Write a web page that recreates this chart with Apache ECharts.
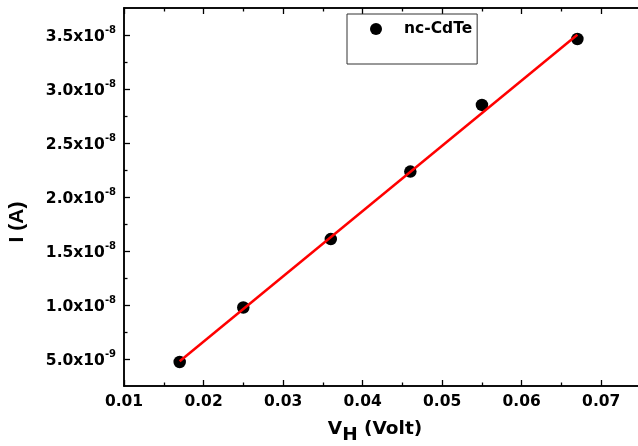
<!DOCTYPE html>
<html>
<head>
<meta charset="utf-8">
<script src="https://cdn.jsdelivr.net/npm/echarts@6/dist/echarts.min.js"></script>
<style>
  html, body { margin: 0; padding: 0; background: #fff; }
  #chart { width: 638px; height: 446px; }
</style>
</head>
<body>
<div id="chart"></div>
<script>
// Hall voltage vs current for nc-CdTe
const seriesName = 'nc-CdTe';
const hallVoltage = [0.017, 0.025, 0.036, 0.046, 0.055, 0.067];
const current = [4.72e-9, 9.77e-9, 1.61e-8, 2.235e-8, 2.853e-8, 3.463e-8];

// Linear fit end points
const fitVoltage = [0.017, 0.067];
const fitCurrent = [4.8e-9, 3.503e-8];

// Axis ticks
const xMajorTicks = [0.01, 0.02, 0.03, 0.04, 0.05, 0.06, 0.07];
const xMinorTicks = [0.015, 0.025, 0.035, 0.045, 0.055, 0.065];
const yMajorTicks = [5e-9, 1e-8, 1.5e-8, 2e-8, 2.5e-8, 3e-8, 3.5e-8];
const yMinorTicks = [7.5e-9, 1.25e-8, 1.75e-8, 2.25e-8, 2.75e-8, 3.25e-8];

const X_MIN = 0.01, X_MAX = 0.075;
const Y_MIN = 2.5e-9, Y_MAX = 3.75e-8;

const FONT = 'DejaVu Sans';
const AXIS_COLOR = '#000';

function sciLabel(v) {
  const exp = Math.floor(Math.log10(v) + 1e-9);
  const mant = v / Math.pow(10, exp);
  return '{m|' + mant.toFixed(1) + 'x10}{e|' + exp + '}';
}

function tickAxis(base, ticks, len, extra) {
  return Object.assign({
    type: 'value',
    min: base.min,
    max: base.max,
    position: base.position,
    axisLine: { show: true, lineStyle: { color: AXIS_COLOR, width: 1.5 } },
    axisTick: { show: true, inside: true, length: len, customValues: ticks,
                lineStyle: { color: AXIS_COLOR, width: 1.3 } },
    axisLabel: { show: false },
    splitLine: { show: false }
  }, extra || {});
}

const chart = echarts.init(document.getElementById('chart'), null, { renderer: 'canvas' });

const option = {
  animation: false,
  backgroundColor: '#fff',
  grid: {
    left: 124, right: -3, top: 8, bottom: 60,
    containLabel: false,
    outerBoundsMode: 'none'
  },
  legend: {
    data: [seriesName],
    left: 347, top: 14,
    padding: [7, 5, 27, 23],
    itemWidth: 46, itemHeight: 12,
    borderColor: '#333', borderWidth: 1,
    textStyle: { fontFamily: FONT, fontWeight: 'bold', fontSize: 15.5, color: '#000' }
  },
  xAxis: [
    tickAxis({ min: X_MIN, max: X_MAX, position: 'bottom' }, xMajorTicks, 6, {
      axisLabel: {
        show: true, customValues: xMajorTicks, margin: 8,
        formatter: v => v.toFixed(2),
        fontFamily: FONT, fontWeight: 'bold', fontSize: 15.5, color: '#000'
      },
      name: '{v|V}{s|H}{v| (Volt)}',
      nameLocation: 'middle',
      nameGap: 34,
      nameTextStyle: {
        padding: [0, 15, 0, 0],
        rich: {
          v: { fontFamily: FONT, fontWeight: 'bold', fontSize: 18.5, color: '#000', lineHeight: 25, verticalAlign: 'top' },
          s: { fontFamily: FONT, fontWeight: 'bold', fontSize: 18.5, color: '#000', lineHeight: 25, verticalAlign: 'bottom' }
        }
      }
    }),
    tickAxis({ min: X_MIN, max: X_MAX, position: 'bottom' }, xMinorTicks, 3.5),
    tickAxis({ min: X_MIN, max: X_MAX, position: 'top' }, xMajorTicks, 6),
    tickAxis({ min: X_MIN, max: X_MAX, position: 'top' }, xMinorTicks, 3.5)
  ],
  yAxis: [
    tickAxis({ min: Y_MIN, max: Y_MAX, position: 'left' }, yMajorTicks, 6, {
      axisLabel: {
        show: true, customValues: yMajorTicks, margin: 8,
        formatter: sciLabel,
        rich: {
          m: { fontFamily: FONT, fontWeight: 'bold', fontSize: 15.5, color: '#000', lineHeight: 20, verticalAlign: 'bottom' },
          e: { fontFamily: FONT, fontWeight: 'bold', fontSize: 10, color: '#000', lineHeight: 12, verticalAlign: 'top' }
        }
      },
      name: 'I (A)',
      nameLocation: 'middle',
      nameRotate: 90,
      nameGap: 96,
      nameTextStyle: {
        fontFamily: 'Liberation Sans', fontWeight: 'bold', fontSize: 21, color: '#000',
        padding: [0, 50, 0, 0]
      }
    }),
    tickAxis({ min: Y_MIN, max: Y_MAX, position: 'left' }, yMinorTicks, 3.5)
  ],
  series: [
    {
      name: seriesName,
      type: 'scatter',
      symbol: 'circle',
      symbolSize: 12.5,
      itemStyle: { color: '#000', opacity: 1 },
      data: hallVoltage.map((x, i) => [x, current[i]]),
      z: 2
    },
    {
      name: 'fit',
      type: 'line',
      showSymbol: false,
      symbol: 'none',
      lineStyle: { color: '#ff0000', width: 2.5 },
      data: fitVoltage.map((x, i) => [x, fitCurrent[i]]),
      z: 3
    }
  ]
};

chart.setOption(option);
</script>
</body>
</html>
